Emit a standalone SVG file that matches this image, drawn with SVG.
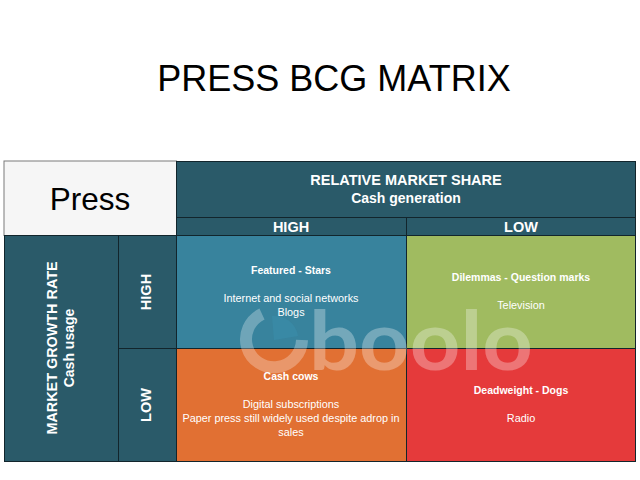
<svg xmlns="http://www.w3.org/2000/svg" width="640" height="480" viewBox="0 0 640 480">
<style>
text{font-family:"Liberation Sans",Arial,sans-serif;text-anchor:middle;fill:#fff}
.hd{font-weight:700;font-size:14px}
.hw{font-weight:700;font-size:14.5px}
.ax{font-weight:700;font-size:14.5px}
.t{font-size:10.85px}
.tb{font-size:10.5px;font-weight:700}
.c{stroke:#12252c;stroke-width:1}
.wm{font-size:83px;font-weight:700;fill:#fff;fill-opacity:.3;text-anchor:start;font-family:"Lato","Liberation Sans",sans-serif}
</style>
<rect width="640" height="480" fill="#fff"/>
<text x="334" y="91" font-size="36" style="fill:#000">PRESS BCG MATRIX</text>
<g id="corner"><rect x="4" y="161" width="172.500" height="74.500" fill="#f6f6f6" stroke="#7a7a7a" stroke-width="1"/><text x="90" y="210" font-size="31.500" style="fill:#000">Press</text></g>
<g id="top-header"><rect x="176.500" y="161.500" width="459" height="56" fill="#2a5a69" class="c"/><text x="406" y="185" class="hw">RELATIVE MARKET SHARE</text><text x="406" y="203" class="hd">Cash generation</text></g>
<g id="col-high"><rect x="176.500" y="217.500" width="230" height="18" fill="#2a5a69" class="c"/><text x="291" y="232" class="ax">HIGH</text></g>
<g id="col-low"><rect x="406.500" y="217.500" width="229" height="18" fill="#2a5a69" class="c"/><text x="521" y="232" class="ax">LOW</text></g>
<g id="side-header"><rect x="4.500" y="235.500" width="114" height="226" fill="#2a5a69" class="c"/><text transform="translate(56.500,348) rotate(-90)" style="font-weight:700;font-size:14.4px">MARKET GROWTH RATE</text><text transform="translate(74,348) rotate(-90)" class="hd">Cash usage</text></g>
<g id="row-high"><rect x="118.500" y="235.500" width="58" height="113" fill="#2a5a69" class="c"/><text transform="translate(151,292) rotate(-90)" class="ax">HIGH</text></g>
<g id="row-low"><rect x="118.500" y="348.500" width="58" height="113" fill="#2a5a69" class="c"/><text transform="translate(151,405) rotate(-90)" class="ax">LOW</text></g>
<g id="stars"><rect x="176.500" y="235.500" width="230" height="113" fill="#38839d" class="c"/><text x="291" y="274" class="tb">Featured - Stars</text><text x="291" y="302" class="t">Internet and social networks</text><text x="291" y="316" class="t">Blogs</text></g>
<g id="question"><rect x="406.500" y="235.500" width="229" height="113" fill="#a0bb60" class="c"/><text x="521" y="281" class="tb">Dilemmas - Question marks</text><text x="521" y="309" class="t">Television</text></g>
<g id="cows"><rect x="176.500" y="348.500" width="230" height="113" fill="#e17033" class="c"/><text x="291" y="380" class="tb">Cash cows</text><text x="291" y="408" class="t">Digital subscriptions</text><text x="291" y="422" class="t">Paper press still widely used despite adrop in</text><text x="291" y="436" class="t">sales</text></g>
<g id="dogs"><rect x="406.500" y="348.500" width="229" height="113" fill="#e53a3b" class="c"/><text x="521" y="394" class="tb">Deadweight - Dogs</text><text x="521" y="422" class="t">Radio</text></g>
<g id="watermark"><path d="M274 340L272 316A24 24 0 0 1 298 336Z" fill="#3a8fae" fill-opacity=".5"/><path d="M262 314A28 28 0 1 0 302 340" fill="none" stroke="#fff" stroke-opacity=".28" stroke-width="12"/><text x="309" y="370" class="wm" textLength="224" lengthAdjust="spacingAndGlyphs">boolo</text></g>
</svg>
